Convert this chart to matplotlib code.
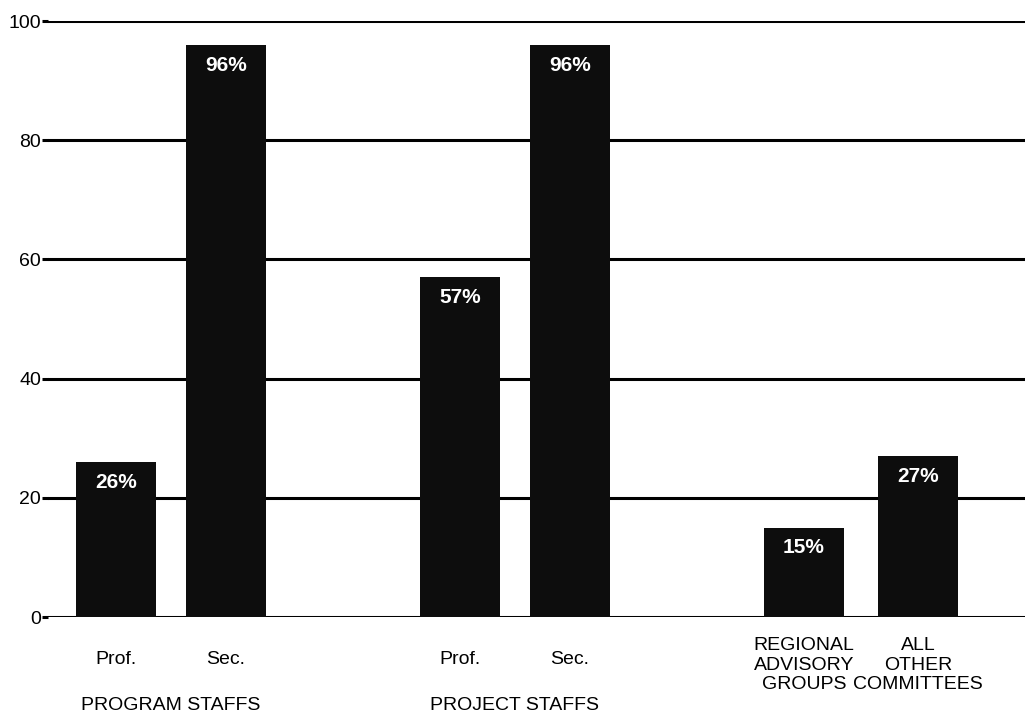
import matplotlib.pyplot as plt

# values (percent)
bar_labels = ["Prof.", "Sec.", "Prof.", "Sec.", "REGIONAL\nADVISORY\nGROUPS", "ALL\nOTHER\nCOMMITTEES"]
values = [26, 96, 57, 96, 15, 27]
group_names = ["PROGRAM STAFFS", "PROJECT STAFFS"]
yticks = [0, 20, 40, 60, 80, 100]

plt.rcParams["font.family"] = ["Liberation Sans", "DejaVu Sans"]

fig = plt.figure(figsize=(10.25, 7.15), dpi=100)
ax = fig.add_axes([48 / 1025, 98 / 715, 977 / 1025, 596 / 715])

# bar centres in axis units (pixel-like layout)
xpos = [68, 178, 412, 522, 756, 870]
group_x = [123, 467]

for y in yticks:
    ax.axhline(y, color="black", lw=2.2, zorder=1)

ax.bar(xpos, values, width=80, color="#0d0d0d", zorder=2)

for x, v in zip(xpos, values):
    ax.text(x, v - 3.4, f"{v}%", color="white", fontsize=15, fontweight="bold",
            ha="center", va="center", zorder=3)

for x, lab in zip(xpos, bar_labels):
    if "\n" in lab:
        ax.text(x, -3.4, lab, ha="center", va="top", fontsize=14, linespacing=1.2)
    else:
        ax.text(x, -7.2, lab, ha="center", va="center", fontsize=14)

for x, g in zip(group_x, group_names):
    ax.text(x, -14.8, g, ha="center", va="center", fontsize=14)

ax.set_xlim(0, 977)
ax.set_ylim(0, 100)
ax.set_yticks(yticks)
ax.set_yticklabels([str(t) for t in yticks], fontsize=14)
ax.tick_params(axis="y", length=4, width=2.2, pad=1)
ax.set_xticks([])
for s in ax.spines.values():
    s.set_visible(False)

fig.savefig("out.png", dpi=100)
